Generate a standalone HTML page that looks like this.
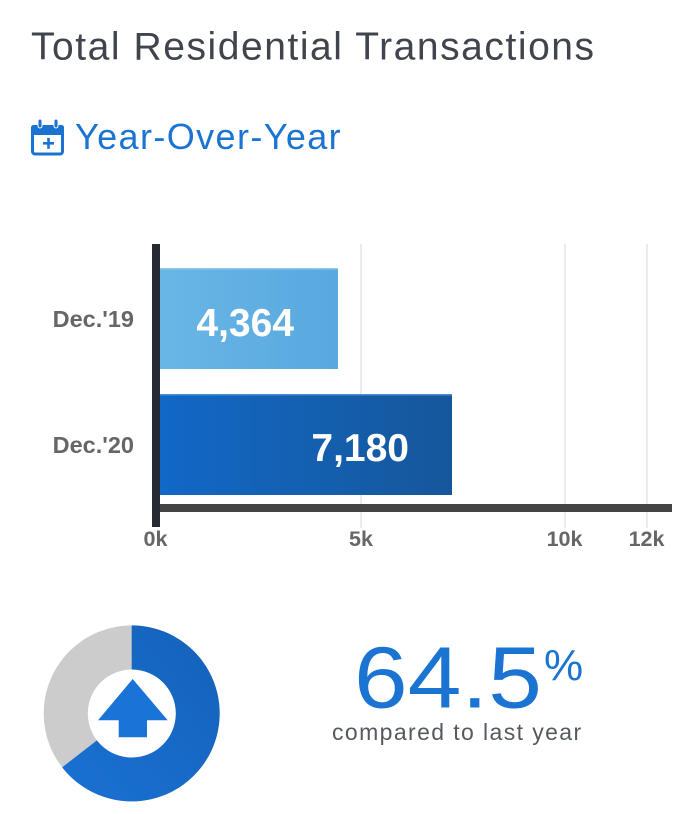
<!DOCTYPE html>
<html>
<head>
<meta charset="utf-8">
<style>
  html, body { margin: 0; padding: 0; background: #ffffff; }
  body { width: 686px; height: 814px; overflow: hidden; }
  svg { display: block; }
  text { font-family: "Liberation Sans", Arial, sans-serif; }
</style>
</head>
<body>
<svg width="686" height="814" viewBox="0 0 686 814" xmlns="http://www.w3.org/2000/svg">
  <defs>
    <linearGradient id="g1" x1="0" y1="0" x2="1" y2="0">
      <stop offset="0" stop-color="#69b6e6"/>
      <stop offset="1" stop-color="#59a8df"/>
    </linearGradient>
    <linearGradient id="g2" x1="0" y1="0" x2="1" y2="0">
      <stop offset="0" stop-color="#1268c6"/>
      <stop offset="1" stop-color="#16579b"/>
    </linearGradient>
    <linearGradient id="gd" x1="1" y1="0" x2="0" y2="1">
      <stop offset="0" stop-color="#1462ba"/>
      <stop offset="1" stop-color="#1a71d3"/>
    </linearGradient>
  </defs>

  <!-- Title -->
  <text x="31" y="59.5" font-size="39" fill="#40444c" letter-spacing="1.55">Total Residential Transactions</text>

  <!-- Calendar icon -->
  <g fill="none" stroke="#1a73d0">
    <rect x="32.5" y="126.5" width="30" height="27.5" rx="2.5" stroke-width="3"/>
  </g>
  <rect x="31" y="125" width="33" height="10" rx="2.5" fill="#1a73d0"/>
  <rect x="38" y="119" width="4" height="9" rx="2" fill="#1a73d0" stroke="#fff" stroke-width="1"/>
  <rect x="54" y="119" width="4" height="9" rx="2" fill="#1a73d0" stroke="#fff" stroke-width="1"/>
  <rect x="43" y="142" width="11" height="2.6" fill="#1a73d0"/>
  <rect x="47.2" y="137.8" width="2.6" height="11" fill="#1a73d0"/>

  <!-- Subtitle -->
  <text x="75" y="149" font-size="36" fill="#1b74d1" letter-spacing="1.4">Year-Over-Year</text>

  <!-- Grid lines -->
  <rect x="360" y="244" width="2" height="284" fill="#ebebeb"/>
  <rect x="564" y="244" width="2" height="284" fill="#ebebeb"/>
  <rect x="646" y="244" width="2" height="284" fill="#ebebeb"/>

  <!-- Bars -->
  <rect x="160" y="268" width="178" height="101" fill="url(#g1)"/>
  <rect x="160" y="268" width="178" height="1.5" fill="#8cc8ee"/>
  <rect x="160" y="394" width="292" height="101" fill="url(#g2)"/>
  <rect x="160" y="394" width="292" height="1.5" fill="#4a8cd2"/>

  <!-- Value labels -->
  <text x="294" y="336" font-size="39" font-weight="bold" fill="#ffffff" text-anchor="end">4,364</text>
  <text x="409" y="461" font-size="39" font-weight="bold" fill="#ffffff" text-anchor="end">7,180</text>

  <!-- X axis line -->
  <rect x="155" y="504" width="517" height="8" fill="#444444"/>
  <!-- Y axis line -->
  <rect x="152" y="244" width="8" height="283" fill="#262a33"/>

  <!-- Category labels -->
  <text x="134" y="327" font-size="23.5" font-weight="bold" fill="#666666" text-anchor="end">Dec.'19</text>
  <text x="134" y="453" font-size="23.5" font-weight="bold" fill="#666666" text-anchor="end">Dec.'20</text>

  <!-- Tick labels -->
  <text x="155.5" y="546" font-size="21.5" font-weight="bold" fill="#666666" text-anchor="middle">0k</text>
  <text x="361" y="546" font-size="21.5" font-weight="bold" fill="#666666" text-anchor="middle">5k</text>
  <text x="564.5" y="546" font-size="21.5" font-weight="bold" fill="#666666" text-anchor="middle">10k</text>
  <text x="646.5" y="546" font-size="21.5" font-weight="bold" fill="#666666" text-anchor="middle">12k</text>

  <!-- Donut -->
  <circle cx="131.7" cy="713.4" r="88" fill="#cccccc"/>
  <path d="M131.7,713.4 L131.7,625.4 A88,88 0 1 1 62.16,767.34 Z" fill="url(#gd)"/>
  <circle cx="131.8" cy="713.5" r="44" fill="#ffffff"/>
  <polygon points="132.7,679 167.7,720.3 147,720.3 147,737.3 118.7,737.3 118.7,720.3 98,720.3" fill="#1a73d6"/>

  <!-- Percentage -->
  <text transform="translate(354,707.5) scale(1.11,1)" x="0" y="0" font-size="87" fill="#1b74d2">64.5</text>
  <text x="544" y="680" font-size="44" fill="#1b74d2">%</text>
  <text x="332" y="740" font-size="23" fill="#555a60" letter-spacing="1.4">compared to last year</text>
</svg>
</body>
</html>
